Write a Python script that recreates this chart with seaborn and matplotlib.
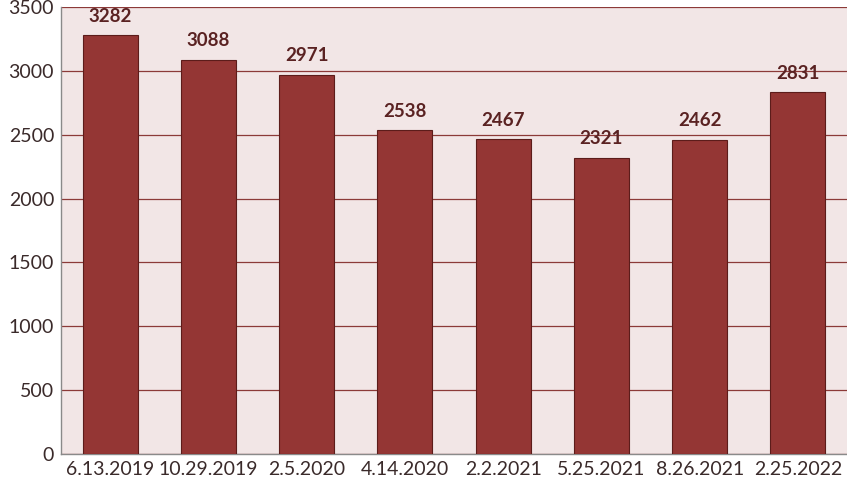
import pandas as pd
import matplotlib.pyplot as plt
import seaborn as sns

dates = ['6.13.2019', '10.29.2019', '2.5.2020', '4.14.2020',
         '2.2.2021', '5.25.2021', '8.26.2021', '2.25.2022']
counts = [3282, 3088, 2971, 2538, 2467, 2321, 2462, 2831]

df = pd.DataFrame({'date': dates, 'count': counts})

sns.set_theme(style='white')
plt.rcParams['font.family'] = ['Lato', 'DejaVu Sans']

fig = plt.figure(figsize=(8.47, 4.88), dpi=100)
ax = fig.add_axes([61 / 847, 34 / 488, 786 / 847, 447 / 488])
ax.set_facecolor('#f2e6e6')

sns.barplot(data=df, x='date', y='count', color='#943634', width=0.56,
            saturation=1, edgecolor='#5c1c1a', linewidth=0.8, ax=ax, zorder=3)

ax.set_ylim(0, 3500)
ax.set_xlim(-0.5, len(dates) - 0.5)
ax.set_yticks(range(0, 3501, 500))
ax.yaxis.grid(True, color='#8c3a38', linewidth=0.9)
ax.set_axisbelow(True)

for i, v in enumerate(counts):
    ax.text(i, v + 80, str(v), ha='center', va='bottom', fontsize=13.5,
            fontweight='bold', color='#5a2222', zorder=4)

ax.tick_params(axis='both', labelsize=14, colors='#3a2a2a', length=0)
ax.tick_params(axis='y', pad=5)
ax.tick_params(axis='x', pad=5)
ax.set_xlabel('')
ax.set_ylabel('')
for s in ['top', 'right']:
    ax.spines[s].set_visible(False)
for s in ['left', 'bottom']:
    ax.spines[s].set_color('#8a8a8a')
    ax.spines[s].set_linewidth(1)

fig.savefig('out.png', dpi=100)
